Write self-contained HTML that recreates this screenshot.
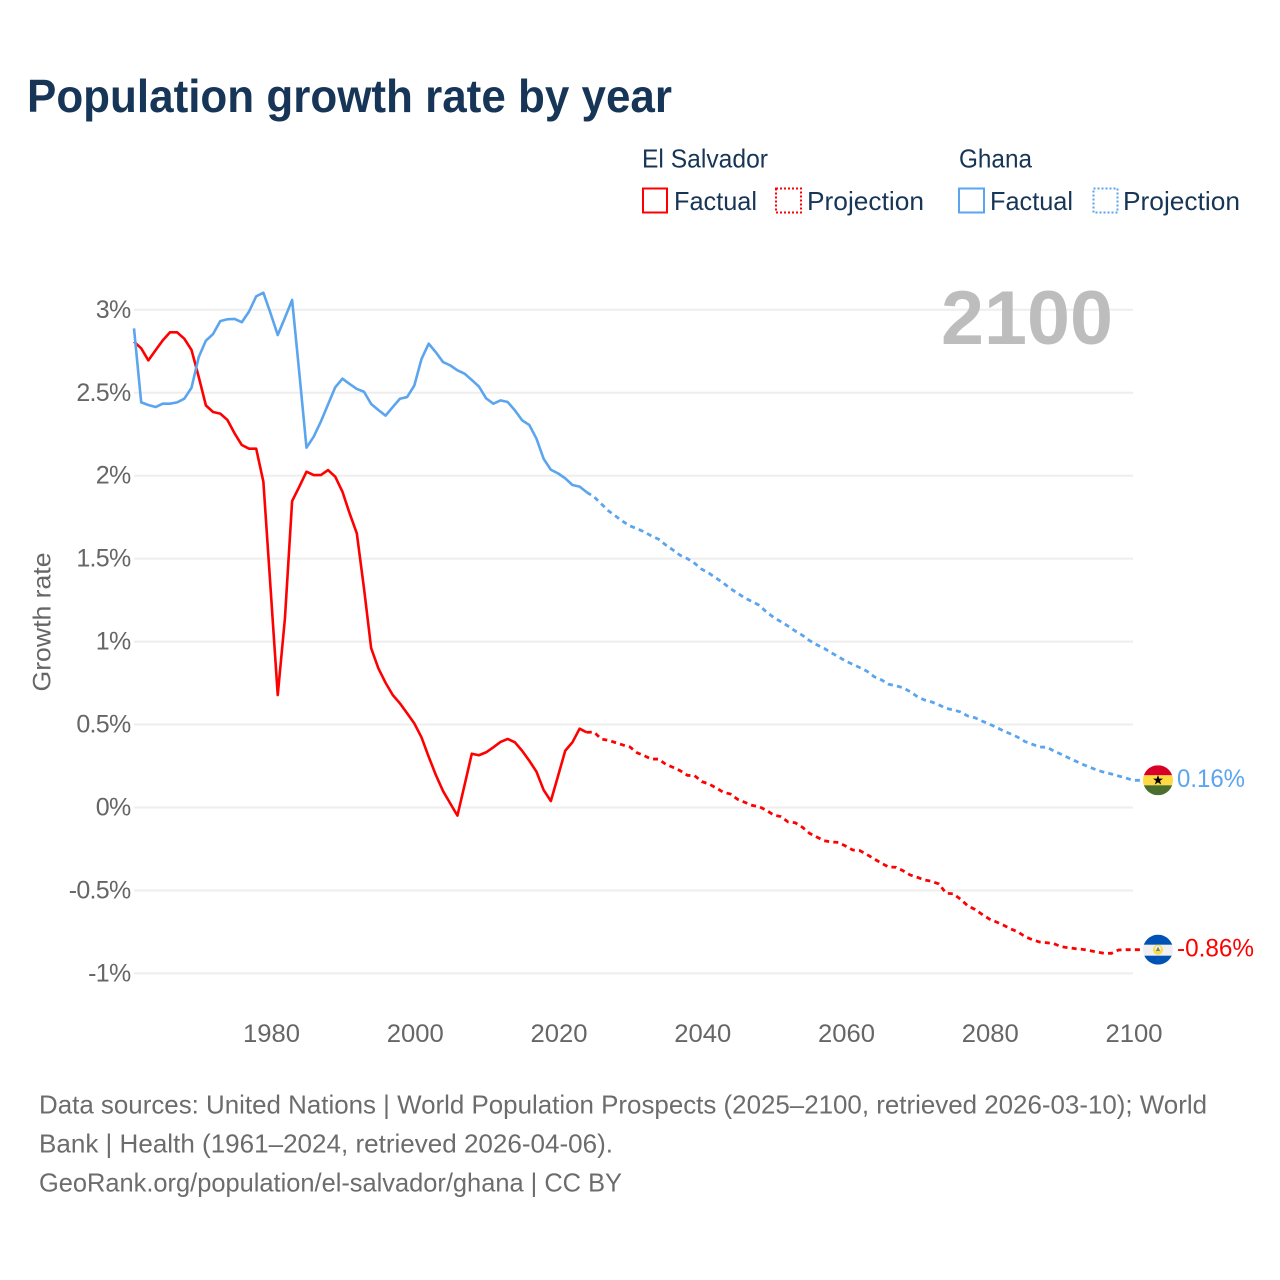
<!DOCTYPE html>
<html lang="en">
<head>
<meta charset="utf-8">
<title>Population growth rate by year</title>
<style>
  html,body{margin:0;padding:0;background:#fff;}
  svg{display:block;font-family:"Liberation Sans",sans-serif;}
</style>
</head>
<body>
<svg id="chart" xmlns="http://www.w3.org/2000/svg" width="1280" height="1280" viewBox="0 0 1280 1280">
  <defs>
    <clipPath id="flag-clip"><circle cx="0" cy="0" r="15"/></clipPath>
  </defs>
  <rect width="1280" height="1280" fill="#fff"/>
  <text x="27" y="112" font-size="46" font-weight="700" fill="#173557" textLength="645" lengthAdjust="spacingAndGlyphs">Population growth rate by year</text>

  <g font-size="26" fill="#173557">
    <text x="642" y="167.500" textLength="126" lengthAdjust="spacingAndGlyphs">El Salvador</text>
    <rect x="643" y="188.500" width="24" height="24" fill="none" stroke="#ff0000" stroke-width="2"/>
    <text x="674" y="210" textLength="83" lengthAdjust="spacingAndGlyphs">Factual</text>
    <rect x="776" y="188.500" width="25" height="24" fill="none" stroke="#ff0000" stroke-width="2" stroke-dasharray="2,2"/>
    <text x="807" y="210" textLength="117" lengthAdjust="spacingAndGlyphs">Projection</text>
    <text x="959" y="167.500" textLength="73" lengthAdjust="spacingAndGlyphs">Ghana</text>
    <rect x="959" y="188.500" width="25" height="24" fill="none" stroke="#5ba5ef" stroke-width="2"/>
    <text x="990" y="210" textLength="83" lengthAdjust="spacingAndGlyphs">Factual</text>
    <rect x="1093.500" y="188.500" width="24" height="24" fill="none" stroke="#5ba5ef" stroke-width="2" stroke-dasharray="2,2"/>
    <text x="1123" y="210" textLength="117" lengthAdjust="spacingAndGlyphs">Projection</text>
  </g>

  <g id="grid"></g>
  <g id="y-ticks"></g>
  <g id="x-ticks"></g>

  <text x="941" y="344" font-size="76" font-weight="700" fill="#bdbdbd" textLength="172" lengthAdjust="spacingAndGlyphs">2100</text>
  <text transform="translate(50.500,622) rotate(-90)" text-anchor="middle" font-size="25" fill="#666" textLength="139" lengthAdjust="spacingAndGlyphs">Growth rate</text>

  <g id="series"></g>

  <g id="flag-ghana">
    <g clip-path="url(#flag-clip)">
      <rect x="-15" y="-15" width="30" height="10" fill="#d80027"/>
      <rect x="-15" y="-5" width="30" height="10" fill="#ffda44"/>
      <rect x="-15" y="5" width="30" height="10" fill="#496e2d"/>
      <polygon transform="scale(1.050)" points="0,-5 1.200,-1.600 4.800,-1.600 1.900,0.600 3,4 0,2 -3,4 -1.900,0.600 -4.800,-1.600 -1.200,-1.600" fill="#000"/>
    </g>
  </g>
  <g id="flag-el-salvador">
    <g clip-path="url(#flag-clip)">
      <rect x="-15" y="-15" width="30" height="10.500" fill="#0052b4"/>
      <rect x="-15" y="-5" width="30" height="11" fill="#f0f0f0"/>
      <rect x="-15" y="6" width="30" height="9" fill="#0052b4"/>
      <circle cx="0" cy="0" r="5" fill="#ffda44"/>
      <circle cx="0" cy="-1" r="3" fill="#f0f0f0"/>
      <polygon points="0,-3 2.200,1.500 -2.200,1.500" fill="#6d8f3a"/>
    </g>
  </g>
  <text id="end-label-ghana" x="1177" font-size="25" fill="#5ba5ef" textLength="68" lengthAdjust="spacingAndGlyphs"></text>
  <text id="end-label-el-salvador" x="1177" font-size="25" fill="#ff0000" textLength="77" lengthAdjust="spacingAndGlyphs"></text>

  <g font-size="26" fill="#6c6c6c">
    <text x="39" y="1113.500" textLength="1168" lengthAdjust="spacingAndGlyphs">Data sources: United Nations | World Population Prospects (2025–2100, retrieved 2026-03-10); World</text>
    <text x="39" y="1152.500" textLength="574" lengthAdjust="spacingAndGlyphs">Bank | Health (1961–2024, retrieved 2026-04-06).</text>
    <text x="39" y="1191.500" textLength="583" lengthAdjust="spacingAndGlyphs">GeoRank.org/population/el-salvador/ghana | CC BY</text>
  </g>
</svg>

<script>
const factualStartYear = 1961;
const projectionStartYear = 2024;
const lastYear = 2100;

const yTickValues = [3, 2.5, 2, 1.5, 1, 0.5, 0, -0.5, -1];
const yTickLabels = ["3%", "2.5%", "2%", "1.5%", "1%", "0.5%", "0%", "-0.5%", "-1%"];
const xTickValues = [1980, 2000, 2020, 2040, 2060, 2080, 2100];
const xTickLabels = ["1980", "2000", "2020", "2040", "2060", "2080", "2100"];

const ghanaEndLabel = "0.16%";
const elSalvadorEndLabel = "-0.86%";

// 1961–2024
const elSalvadorFactual = [
  2.808,2.768,2.695,2.756,2.816,2.864,2.864,2.826,2.758,2.597,
  2.424,2.384,2.374,2.336,2.255,2.185,2.163,2.163,1.964,1.323,
  0.678,1.14,1.847,1.934,2.024,2.004,2.004,2.034,1.994,1.904,
  1.773,1.653,1.321,0.96,0.839,0.752,0.678,0.628,0.568,0.507,
  0.423,0.306,0.196,0.099,0.025,-0.049,0.136,0.324,0.315,0.333,
  0.363,0.395,0.413,0.393,0.342,0.282,0.216,0.105,0.039,0.19,
  0.342,0.393,0.475,0.453
];
// 2024–2100
const elSalvadorProjection = [
  0.453,0.455,0.413,0.405,0.391,0.377,0.365,0.33,0.312,0.292,
  0.292,0.26,0.242,0.222,0.194,0.192,0.156,0.142,0.118,0.092,
  0.081,0.049,0.031,0.013,0.005,-0.017,-0.045,-0.055,-0.087,-0.092,
  -0.119,-0.156,-0.178,-0.2,-0.208,-0.21,-0.232,-0.256,-0.26,-0.284,
  -0.31,-0.336,-0.359,-0.36,-0.381,-0.407,-0.421,-0.437,-0.445,-0.461,
  -0.517,-0.52,-0.553,-0.592,-0.614,-0.644,-0.672,-0.69,-0.71,-0.732,
  -0.75,-0.779,-0.797,-0.811,-0.815,-0.821,-0.839,-0.845,-0.851,-0.855,
  -0.863,-0.871,-0.879,-0.879,-0.859,-0.857,-0.857
];
// 1961–2024
const ghanaFactual = [
  2.888,2.442,2.426,2.414,2.434,2.434,2.442,2.464,2.53,2.714,
  2.814,2.854,2.932,2.943,2.945,2.925,2.989,3.081,3.103,2.979,
  2.848,2.952,3.059,2.62,2.169,2.235,2.326,2.43,2.533,2.585,
  2.553,2.523,2.506,2.432,2.396,2.362,2.414,2.464,2.474,2.543,
  2.703,2.796,2.744,2.685,2.665,2.635,2.615,2.577,2.537,2.466,
  2.434,2.454,2.444,2.394,2.334,2.306,2.223,2.102,2.036,2.014,
  1.984,1.944,1.934,1.9
];
// 2024–2100
const ghanaProjection = [
  1.9,1.873,1.831,1.789,1.757,1.725,1.697,1.681,1.661,1.637,
  1.617,1.582,1.552,1.52,1.5,1.472,1.436,1.412,1.383,1.353,
  1.319,1.291,1.263,1.241,1.219,1.178,1.146,1.12,1.094,1.064,
  1.038,1.006,0.981,0.96,0.933,0.909,0.883,0.863,0.843,0.821,
  0.788,0.769,0.743,0.734,0.722,0.698,0.668,0.648,0.636,0.618,
  0.598,0.588,0.576,0.552,0.541,0.521,0.503,0.483,0.461,0.443,
  0.423,0.397,0.381,0.365,0.363,0.341,0.321,0.3,0.28,0.26,
  0.242,0.226,0.212,0.202,0.19,0.178,0.164
];

const NS = "http://www.w3.org/2000/svg";
const plotLeft = 134, plotRight = 1133;
const zeroY = 807.5, pxPerUnit = 165.9;
function xScale(year) { return plotLeft + (year - factualStartYear) * (plotRight - plotLeft) / (lastYear - factualStartYear); }
function yScale(v) { return zeroY - v * pxPerUnit; }

function pathFor(values, startYear) {
  return values.map(function (v, i) {
    return (i ? "L" : "M") + xScale(startYear + i).toFixed(2) + " " + yScale(v).toFixed(2);
  }).join(" ");
}

const gridGroup = document.getElementById("grid");
const yTickGroup = document.getElementById("y-ticks");
yTickValues.forEach(function (v, i) {
  const line = document.createElementNS(NS, "line");
  
  
  line.setAttribute("x1", plotLeft);
  line.setAttribute("x2", plotRight);
  line.setAttribute("y1", yScale(v));
  line.setAttribute("y2", yScale(v));
  line.setAttribute("stroke", "#eeeeee");
  line.setAttribute("stroke-width", "2");
  gridGroup.appendChild(line);

  const label = document.createElementNS(NS, "text");
  
  
  label.setAttribute("x", 130.5);
  label.setAttribute("y", yScale(v) + 8);
  label.setAttribute("text-anchor", "end");
  label.setAttribute("font-size", "25");
  label.setAttribute("letter-spacing", "-0.7");
  label.setAttribute("fill", "#666");
  label.textContent = yTickLabels[i];
  yTickGroup.appendChild(label);
});

const xTickGroup = document.getElementById("x-ticks");
xTickValues.forEach(function (year, i) {
  const label = document.createElementNS(NS, "text");
  
  
  label.setAttribute("x", xScale(year) + 1);
  label.setAttribute("y", 1042);
  label.setAttribute("text-anchor", "middle");
  label.setAttribute("font-size", "25");
  label.setAttribute("fill", "#666");
  label.setAttribute("textLength", "57");
  label.setAttribute("lengthAdjust", "spacingAndGlyphs");
  label.textContent = xTickLabels[i];
  xTickGroup.appendChild(label);
});

const seriesGroup = document.getElementById("series");

const salvadorFactualLine = document.createElementNS(NS, "path");


salvadorFactualLine.setAttribute("d", pathFor(elSalvadorFactual, factualStartYear));
salvadorFactualLine.setAttribute("fill", "none");
salvadorFactualLine.setAttribute("stroke", "#ff0000");
salvadorFactualLine.setAttribute("stroke-width", "2.6");
salvadorFactualLine.setAttribute("stroke-linejoin", "round");
seriesGroup.appendChild(salvadorFactualLine);

const salvadorProjectionLine = document.createElementNS(NS, "path");


salvadorProjectionLine.setAttribute("d", pathFor(elSalvadorProjection, projectionStartYear) + " L1141 " + yScale(elSalvadorProjection[elSalvadorProjection.length - 1]).toFixed(2));
salvadorProjectionLine.setAttribute("fill", "none");
salvadorProjectionLine.setAttribute("stroke", "#ff0000");
salvadorProjectionLine.setAttribute("stroke-width", "2.8");
salvadorProjectionLine.setAttribute("stroke-dasharray", "5,4.2");
seriesGroup.appendChild(salvadorProjectionLine);

const ghanaFactualLine = document.createElementNS(NS, "path");


ghanaFactualLine.setAttribute("d", pathFor(ghanaFactual, factualStartYear));
ghanaFactualLine.setAttribute("fill", "none");
ghanaFactualLine.setAttribute("stroke", "#5ba5ef");
ghanaFactualLine.setAttribute("stroke-width", "2.6");
ghanaFactualLine.setAttribute("stroke-linejoin", "round");
seriesGroup.appendChild(ghanaFactualLine);

const ghanaProjectionLine = document.createElementNS(NS, "path");


ghanaProjectionLine.setAttribute("d", pathFor(ghanaProjection, projectionStartYear) + " L1141 " + yScale(ghanaProjection[ghanaProjection.length - 1]).toFixed(2));
ghanaProjectionLine.setAttribute("fill", "none");
ghanaProjectionLine.setAttribute("stroke", "#5ba5ef");
ghanaProjectionLine.setAttribute("stroke-width", "2.8");
ghanaProjectionLine.setAttribute("stroke-dasharray", "5,4.2");
seriesGroup.appendChild(ghanaProjectionLine);

const ghanaEndY = yScale(ghanaProjection[ghanaProjection.length - 1]);
const salvadorEndY = yScale(elSalvadorProjection[elSalvadorProjection.length - 1]);
document.getElementById("flag-ghana").setAttribute("transform", "translate(1158," + ghanaEndY + ")");
document.getElementById("flag-el-salvador").setAttribute("transform", "translate(1158," + salvadorEndY + ")");
const ghanaLabelEl = document.getElementById("end-label-ghana");
ghanaLabelEl.setAttribute("y", ghanaEndY + 6.5);
ghanaLabelEl.textContent = ghanaEndLabel;
const salvadorLabelEl = document.getElementById("end-label-el-salvador");
salvadorLabelEl.setAttribute("y", salvadorEndY + 7);
salvadorLabelEl.textContent = elSalvadorEndLabel;
</script>
</body>
</html>
